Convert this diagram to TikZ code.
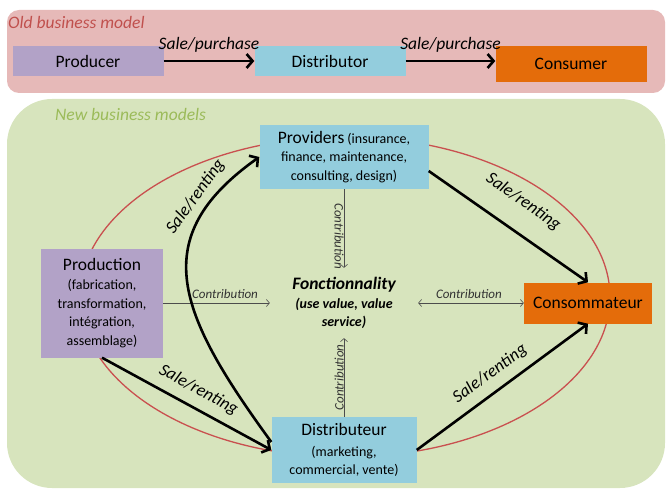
\documentclass[tikz,border=0pt]{standalone}
\usepackage{fontspec}
\setmainfont{Carlito}
\usepackage{xcolor}
\usetikzlibrary{
    arrows.meta,
    calc,
    positioning
}
\definecolor{oldbg}{HTML}{E6B9B8}
\definecolor{oldtxt}{HTML}{C0504D}
\definecolor{newbg}{HTML}{D7E4BD}
\definecolor{newtxt}{HTML}{9BBB59}
\definecolor{prodfill}{HTML}{B2A2C7}
\definecolor{distfill}{HTML}{93CDDD}
\definecolor{consfill}{HTML}{E46C0A}
\definecolor{ringred}{HTML}{C9504F}
\newcommand{\lblbig}{\fontsize{17.5}{20}\selectfont}
\newcommand{\lblsmall}{\fontsize{14}{18.5}\selectfont}
\newcommand{\lbltiny}{\fontsize{13}{15}\selectfont}

\begin{document}
\begin{tikzpicture}[x=1pt, y=-1pt,
    box/.style={inner sep=0pt, align=center},
    oldbox/.style={box, minimum width=151pt, minimum height=30pt, font=\lblbig},
    newbox/.style={box, font=\lblsmall},
    sale/.style={line width=2.6pt, >={Straight Barb[length=6pt, width=14pt]}, ->},
    contrib/.style={line width=0.6pt, black!70, >={Straight Barb[length=3pt, width=7pt]}, ->},
    salelbl/.style={font=\lblbig\itshape, inner sep=0pt},
    contlbl/.style={font=\lbltiny\itshape, inner sep=0pt, text=black!80}
]
    \useasboundingbox (0,0) rectangle (666,489);
    % old business model
    \fill[oldbg, rounded corners=12pt] (7,10) rectangle (665,93);
    \node[anchor=base west, text=oldtxt, font=\lblbig\itshape, inner sep=0pt] (oldtitle) at (8,29) {Old business model};
    \node[oldbox, fill=prodfill] (producer) at (88,61) {Producer};
    \node[oldbox, fill=distfill] (distributor) at (330,61) {Distributor};
    \node[oldbox, fill=consfill, minimum height=36pt] (consumer) at (571,64) {Consumer};
    \draw[sale] (producer) -- (distributor)
        node[salelbl, midway, above=7pt] (sp1) {Sale/purchase};
    \draw[sale] (distributor.east) -- (distributor.east -| consumer.west)
        node[salelbl, midway, above=7pt] (sp2) {Sale/purchase};

    % new business models
    \fill[newbg, rounded corners=45pt] (7,99) rectangle (665,488);
    \node[anchor=base west, text=newtxt, font=\lblbig\itshape, inner sep=0pt] (newtitle) at (55,121) {New business models};
    \draw[ringred, line width=1.3pt] (345,297) ellipse [x radius=265pt, y radius=160pt];
    \node[newbox, fill=distfill, minimum width=169pt, minimum height=64pt] (prov) at (344,157)
        {{\lblbig Providers} (insurance,\\finance, maintenance,\\consulting, design)};
    \node[newbox, fill=prodfill, minimum width=122pt, minimum height=109pt] (prod) at (102,303)
        {{\lblbig Production}\\[1pt](fabrication,\\transformation,\\intégration,\\assemblage)};
    \node[newbox, fill=consfill, minimum width=128pt, minimum height=41pt, font=\lblbig] (cons) at (588,303)
        {Consommateur};
    \node[newbox, fill=distfill, minimum width=145pt, minimum height=66pt] (dist) at (344,450)
        {{\lblbig Distributeur}\\[2pt](marketing,\\commercial, vente)};
    \node[newbox, minimum width=148pt, minimum height=70pt, font=\lblsmall\bfseries\itshape] (fonct) at (344,303)
        {{\lblbig Fonctionnality}\\(use value, value\\service)};

    % contributions
    \draw[contrib] (prod) -- (fonct)
        node[contlbl, pos=0.58, above=4pt] (c1) {Contribution};
    \draw[contrib, <->] (fonct) -- (cons)
        node[contlbl, pos=0.48, above=4pt] (c2) {Contribution};
    \draw[contrib] (prov) -- (fonct)
        node[contlbl, pos=0.6, rotate=-90, anchor=north] (c3) {Contribution};
    \draw[contrib] (dist) -- (fonct)
        node[contlbl, pos=0.5, rotate=90, anchor=south] (c4) {Contribution};

    % sales
    \draw[sale] (prod.south) -- (dist.west)
        node[salelbl, pos=0.52, sloped, above=9pt] (sr1) {Sale/renting};
    \draw[sale] (dist.east) -- (cons.south)
        node[salelbl, pos=0.49, sloped, above=9pt] (sr2) {Sale/renting};
    \draw[sale] ([yshift=-14pt]prov.east) -- (cons.north)
        node[salelbl, pos=0.49, sloped, above=20pt] (sr3) {Sale/renting};
    \draw[sale] ([yshift=8pt]dist.west) .. controls (178,314) and (145,238) .. (prov.west)
        node[salelbl, pos=0.8, sloped, above=6pt] (sr4) {Sale/renting};
\end{tikzpicture}
\end{document}
